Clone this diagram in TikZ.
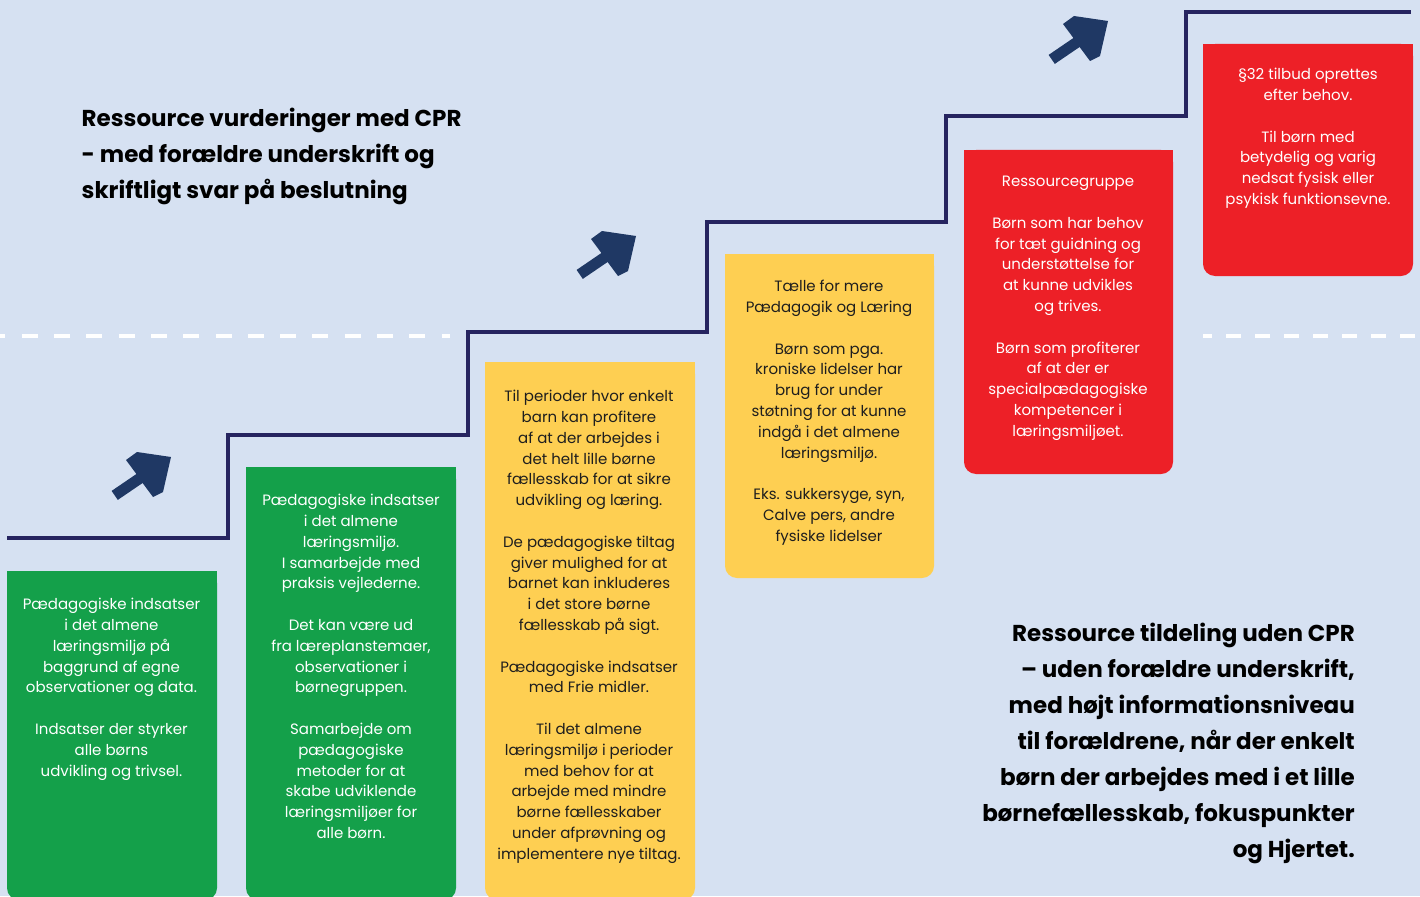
\documentclass[tikz,border=0pt]{standalone}
\usepackage{fontspec}
\setmainfont{Poppins}
\definecolor{bg}{RGB}{214,225,242}
\definecolor{stair}{RGB}{38,36,96}
\definecolor{arrowc}{RGB}{31,56,100}
\definecolor{greenc}{RGB}{20,160,74}
\definecolor{yellowc}{RGB}{254,207,82}
\definecolor{redc}{RGB}{237,32,39}
\definecolor{darktext}{RGB}{30,30,30}
\tikzset{
  bodytext/.style={inner sep=0pt, anchor=north, align=center,
    font=\fontsize{15}{20.8}\selectfont},
  lighttext/.style={bodytext, text=white},
  darkbody/.style={bodytext, text=darktext},
  headtext/.style={inner sep=0pt, font=\fontsize{23}{36}\selectfont\bfseries, text=black},
  uparrow/.pic={\fill[arrowc] (0,0) -- (-34,-5) -- (-45,3) -- (-34.6,17) -- (-59.4,33.9)
     -- (-53.2,42.9) -- (-28.4,26) -- (-18,40) -- (-8,35) -- cycle;}
}
\newcommand\cardshape[5]{%
  \fill[#1, rounded corners=12] (#2,#3) rectangle (#4,#5);
  \fill[#1] (#2,#3) rectangle (#4,#3+30);
}
\begin{document}
\begin{tikzpicture}[x=1pt,y=-1pt]
\useasboundingbox (0,0) rectangle (1420,896);
\clip (0,0) rectangle (1420,896);
\fill[bg] (0,0) rectangle (1420,896);
% dashed guide line
\draw[white, line width=4pt, dash pattern=on 16 off 16.3] (-10.6,335.5) -- (450,335.5);
\draw[white, line width=4pt, dash pattern=on 15 off 14, dash phase=6] (1203,335.5) -- (1420,335.5);
% staircase
\coordinate (s0) at (7,538);
\coordinate (s1) at (1411,12.3);
\draw[stair, line width=4pt] (s0) -- (228,538) -- (228,435) -- (468,435) -- (468,331.7)
  -- (706.5,331.7) -- (706.5,222.3) -- (945.5,222.3) -- (945.5,115.7) -- (1186,115.7)
  -- (1186,12.3) -- (s1);
% arrows
\pic at (171,457) {uparrow};
\pic at (636,236) {uparrow};
\pic at (1108,21) {uparrow};
% cards
\cardshape{greenc}{7}{571}{217}{900}
\cardshape{greenc}{246}{467}{456}{900}
\cardshape{yellowc}{485}{362}{695}{900}
\cardshape{yellowc}{725}{254}{934}{578}
\cardshape{redc}{964}{150}{1173}{474}
\cardshape{redc}{1203}{44}{1413}{276}
% texts
\node[lighttext] (g1) at (111.5,595) {\strut Pædagogiske indsatser\\ i det almene\\ læringsmiljø på\\ baggrund af egne\\ observationer og data.\\[20.8pt] Indsatser der styrker\\ alle børns\\ udvikling og trivsel.};
\node[lighttext] (g2) at (351,491) {\strut Pædagogiske indsatser\\ i det almene\\ læringsmiljø.\\ I samarbejde med\\ praksis vejlederne.\\[20.8pt] Det kan være ud\\ fra læreplanstemaer,\\ observationer i\\ børnegruppen.\\[20.8pt] Samarbejde om\\ pædagogiske\\ metoder for at\\ skabe udviklende\\ læringsmiljøer for\\ alle børn.};
\node[darkbody] (y1) at (589,387) {\strut Til perioder hvor enkelt\\ barn kan profitere\\ af at der arbejdes i\\ det helt lille børne\\ fællesskab for at sikre\\ udvikling og læring.\\[20.8pt] De pædagogiske tiltag\\ giver mulighed for at\\ barnet kan inkluderes\\ i det store børne\\ fællesskab på sigt.\\[20.8pt] Pædagogiske indsatser\\ med Frie midler.\\[20.8pt] Til det almene\\ læringsmiljø i perioder\\ med behov for at\\ arbejde med mindre\\ børne fællesskaber\\ under afprøvning og\\ implementere nye tiltag.};
\node[darkbody] (y2) at (829,277) {\strut Tælle for mere\\ Pædagogik og Læring\\[20.8pt] Børn som pga.\\ kroniske lidelser har\\ brug for under\\ støtning for at kunne\\ indgå i det almene\\ læringsmiljø.\\[20.8pt] Eks. sukkersyge, syn,\\ Calve pers, andre\\ fysiske lidelser};
\node[lighttext] (r1) at (1068,172) {\strut Ressourcegruppe\\[20.8pt] Børn som har behov\\ for tæt guidning og\\ understøttelse for\\ at kunne udvikles\\ og trives.\\[20.8pt] Børn som profiterer\\ af at der er\\ specialpædagogiske\\ kompetencer i\\ læringsmiljøet.};
\node[lighttext] (r2) at (1308,65) {\strut §32 tilbud oprettes\\ efter behov.\\[20.8pt] Til børn med\\ betydelig og varig\\ nedsat fysisk eller\\ psykisk funktionsevne.};
% headings
\node[headtext, anchor=north west, align=left] (h1) at (81.5,101.5) {\strut Ressource vurderinger med CPR\\ - med forældre underskrift og\\ skriftligt svar på beslutning};
\node[headtext, anchor=north east, align=right] (h2) at (1355,615.8) {\strut Ressource tildeling uden CPR\\ – uden forældre underskrift,\\ med højt informationsniveau\\ til forældrene, når der enkelt\\ børn der arbejdes med i et lille\\ børnefællesskab, fokuspunkter\\ og Hjertet.};
\end{tikzpicture}
\end{document}
